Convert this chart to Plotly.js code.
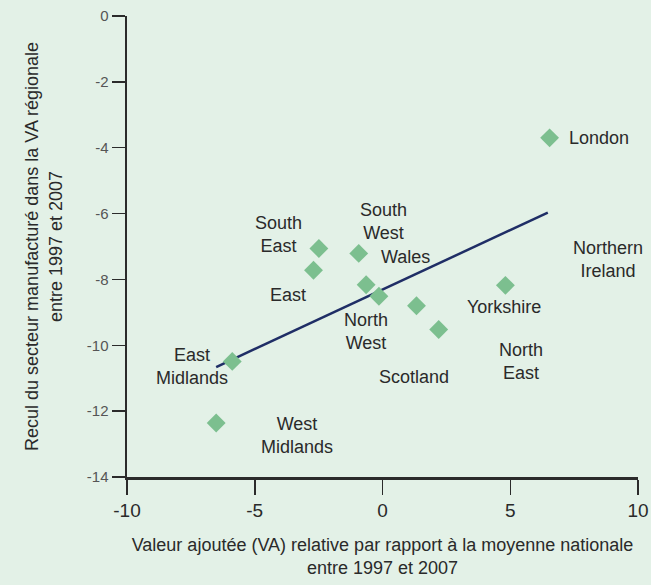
<!DOCTYPE html>
<html><head><meta charset="utf-8">
<script src="https://cdn.plot.ly/plotly-3.0.1.min.js"></script>
<style>html,body{margin:0;padding:0;background:#e3f1e7;}</style>
</head><body>
<div id="chart" style="width:651px;height:585px;"></div>
<script>
// Point data (relative VA vs decline in manufacturing share)
const pointX = [6.54, -2.49, -2.70, -0.93, -0.64, -0.14, 1.33, 2.20, 4.81, -5.88, -6.51];
const pointY = [-3.70, -7.06, -7.72, -7.21, -8.16, -8.51, -8.80, -9.52, -8.18, -10.49, -12.36];

// Trend line endpoints
const trendX = [-6.51, 6.47];
const trendY = [-10.66, -5.97];

// Region labels and where they sit
const labelText = ["London", "South<br>East", "East", "South<br>West", "Wales", "Northern<br>Ireland",
  "Yorkshire", "North<br>West", "Scotland", "North<br>East", "East<br>Midlands", "West<br>Midlands"];
const labelX = [7.24, -4.07, -3.68, 0.04, 0.90, 8.83, 4.74, -0.63, 1.25, 5.43, -7.47, -3.33];
const labelY = [-3.70, -6.63, -8.48, -6.23, -7.33, -7.39, -8.85, -9.57, -10.97, -10.49, -10.64, -12.74];
const labelAnchor = ["left", "center", "center", "center", "center", "center", "center", "center", "center", "center", "center", "center"];

const xTicks = [-10, -5, 0, 5, 10];
const yTicks = [0, -2, -4, -6, -8, -10, -12, -14];

const FONT = "'Liberation Sans Narrow', 'Arial Narrow', 'Liberation Sans', sans-serif";

const traces = [
  {x: trendX, y: trendY, mode: "lines", type: "scatter",
   line: {color: "#1f2e66", width: 2.5}, hoverinfo: "skip", cliponaxis: false},
  {x: pointX, y: pointY, mode: "markers", type: "scatter",
   marker: {symbol: "diamond", size: 14.5, color: "#7cbf8f"}, cliponaxis: false}
];

const annotations = labelText.map((t, i) => ({
  x: labelX[i], y: labelY[i], xref: "x", yref: "y", text: t, showarrow: false,
  xanchor: labelAnchor[i], yanchor: "middle", align: "center",
  font: {family: FONT, size: 18, color: "#2a2a2a"}
}));

const layout = {
  width: 651, height: 585,
  paper_bgcolor: "#e3f1e7", plot_bgcolor: "#e3f1e7",
  margin: {l: 127, r: 12.5, t: 16, b: 108},
  showlegend: false,
  font: {family: FONT},
  xaxis: {
    range: [-10, 10], tickvals: xTicks, ticktext: xTicks.map(String),
    showgrid: false, zeroline: false, showline: true, linecolor: "#2b2b2b", linewidth: 2.5,
    ticks: "outside", ticklen: 15, tickwidth: 1.5, tickcolor: "#2b2b2b",
    tickfont: {family: FONT, size: 19, color: "#2a2a2a"},
    title: {text: "Valeur ajoutée (VA) relative par rapport à la moyenne nationale<br>entre 1997 et 2007",
      font: {family: FONT, size: 18, color: "#2a2a2a"}, standoff: 18}
  },
  yaxis: {
    range: [-14, 0], tickvals: yTicks, ticktext: yTicks.map(String),
    showgrid: false, zeroline: false, showline: true, linecolor: "#2b2b2b", linewidth: 2.5,
    ticks: "outside", ticklen: 13, tickwidth: 1.5, tickcolor: "#2b2b2b",
    tickfont: {family: FONT, size: 15, color: "#555555"},
    title: {text: "Recul du secteur manufacturé dans la VA régionale<br>entre 1997 et 2007",
      font: {family: FONT, size: 18, color: "#2a2a2a"}, standoff: 20}
  },
  annotations: annotations
};

Plotly.newPlot("chart", traces, layout, {displayModeBar: false, staticPlot: true});
</script>
</body></html>
